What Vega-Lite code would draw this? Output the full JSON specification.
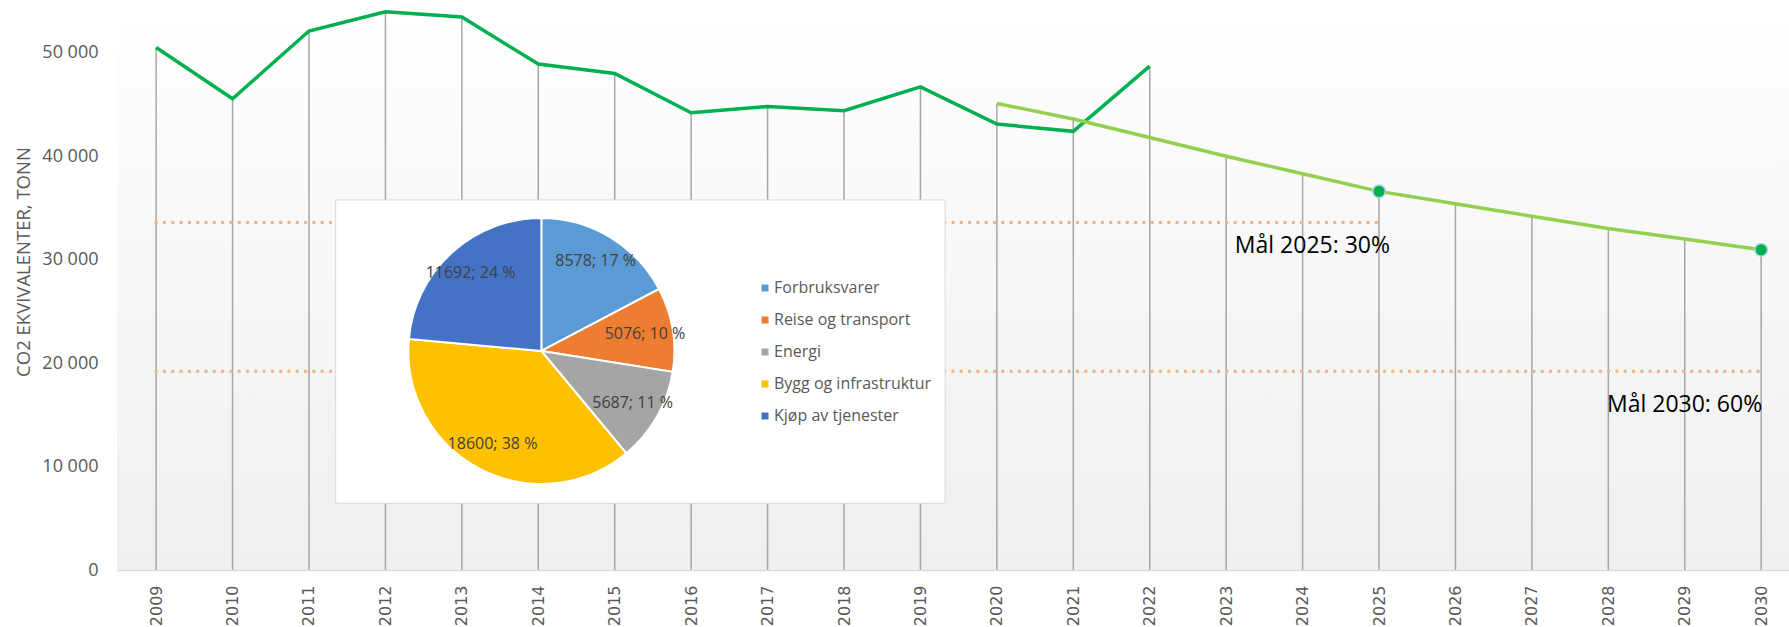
{
  "$schema": "https://vega.github.io/schema/vega-lite/v6.json",
  "width": 1672,
  "height": 569,
  "autosize": "none",
  "padding": {"left": 117, "top": 1, "right": 0, "bottom": 57},
  "background": "white",
  "config": {"view": {"stroke": null}, "font": "Open Sans"},
  "datasets": {
    "emis": [
      {"series": "actual", "year": 2009, "value": 50500},
      {"series": "actual", "year": 2010, "value": 45550},
      {"series": "actual", "year": 2011, "value": 52100},
      {"series": "actual", "year": 2012, "value": 53950},
      {"series": "actual", "year": 2013, "value": 53450},
      {"series": "actual", "year": 2014, "value": 48900},
      {"series": "actual", "year": 2015, "value": 48000},
      {"series": "actual", "year": 2016, "value": 44200},
      {"series": "actual", "year": 2017, "value": 44800},
      {"series": "actual", "year": 2018, "value": 44400},
      {"series": "actual", "year": 2019, "value": 46700},
      {"series": "actual", "year": 2020, "value": 43100},
      {"series": "actual", "year": 2021, "value": 42400},
      {"series": "actual", "year": 2022, "value": 48700},
      {"series": "target", "year": 2020, "value": 45100},
      {"series": "target", "year": 2021, "value": 43600},
      {"series": "target", "year": 2022, "value": 41800},
      {"series": "target", "year": 2023, "value": 40000},
      {"series": "target", "year": 2024, "value": 38300},
      {"series": "target", "year": 2025, "value": 36600},
      {"series": "target", "year": 2026, "value": 35400},
      {"series": "target", "year": 2027, "value": 34200},
      {"series": "target", "year": 2028, "value": 33000},
      {"series": "target", "year": 2029, "value": 32000},
      {"series": "target", "year": 2030, "value": 30950}
    ],
    "goals": [
      {"goal": "2025", "year": 2009, "value": 33600},
      {"goal": "2025", "year": 2025, "value": 33600},
      {"goal": "2030", "year": 2009, "value": 19200},
      {"goal": "2030", "year": 2030, "value": 19200}
    ],
    "pie": [
      {"cat": "Forbruksvarer", "value": 8578, "rank": 1, "label": "8578; 17 %"},
      {"cat": "Reise og transport", "value": 5076, "rank": 2, "label": "5076; 10 %"},
      {"cat": "Energi", "value": 5687, "rank": 3, "label": "5687; 11 %"},
      {"cat": "Bygg og infrastruktur", "value": 18600, "rank": 4, "label": "18600; 38 %"},
      {"cat": "Kjøp av tjenester", "value": 11692, "rank": 5, "label": "11692; 24 %"}
    ],
    "notes": [
      {"goal": "2025", "year": 2025, "value": 33600, "text": "Mål 2025: 30%"},
      {"goal": "2030", "year": 2030, "value": 19200, "text": "Mål 2030: 60%"}
    ]
  },
  "layer": [
    {
      "data": {"values": [{}]},
      "mark": {"type": "rect", "color": {"gradient": "linear", "x1": 0, "y1": 0, "x2": 0, "y2": 1, "stops": [{"offset": 0, "color": "#fefefe"}, {"offset": 1, "color": "#efefef"}]}},
      "encoding": {
        "x": {"datum": 2008.488, "type": "quantitative", "title": null,
          "scale": {"domain": [2008.488, 2030.364], "nice": false, "zero": false}},
        "x2": {"datum": 2030.364},
        "y": {"datum": 0, "type": "quantitative", "title": "CO2 EKVIVALENTER, TONN",
          "scale": {"domain": [0, 55000], "nice": false}},
        "y2": {"datum": 52700}
      }
    },
    {
      "data": {"name": "emis"},
      "mark": {"type": "rule", "color": "#a6a6a6", "strokeWidth": 1.5},
      "encoding": {
        "x": {"field": "year", "type": "quantitative", "title": null,
          "axis": {"values": [2009,2010,2011,2012,2013,2014,2015,2016,2017,2018,2019,2020,2021,2022,2023,2024,2025,2026,2027,2028,2029,2030],
            "format": "d", "labelAngle": -90, "labelAlign": "right", "labelBaseline": "middle", "grid": false, "ticks": false, "domainColor": "#d9d9d9", "domainWidth": 1.5,
            "labelFont": "DejaVu Sans", "labelFontSize": 16, "labelColor": "#595959", "labelPadding": 15}},
        "y": {"aggregate": "max", "field": "value", "type": "quantitative", "title": "CO2 EKVIVALENTER, TONN",
          "axis": {"values": [0, 10000, 20000, 30000, 40000, 50000],
            "labelExpr": "replace(format(datum.value, ','), ',', ' ')", "grid": false, "domain": false, "ticks": false,
            "labelFontSize": 18, "labelColor": "#595959", "labelPadding": 19,
            "titleFontSize": 18.5, "titleColor": "#595959", "titleFontWeight": "normal",
            "titleX": -94, "titleY": 260.5, "titleAlign": "center", "titleBaseline": "middle"}},
        "y2": {"datum": 0}
      }
    },
    {
      "data": {"name": "goals"},
      "mark": {"type": "line", "color": "#f4b183", "strokeWidth": 3.5, "strokeDash": [0.1, 8.2], "strokeCap": "round"},
      "encoding": {
        "x": {"field": "year", "type": "quantitative", "title": null},
        "y": {"field": "value", "type": "quantitative", "title": "CO2 EKVIVALENTER, TONN"},
        "detail": {"field": "goal"}
      }
    },
    {
      "data": {"values": [{}]},
      "mark": {"type": "rect", "fill": "white", "stroke": "#d9d9d9", "strokeWidth": 1},
      "encoding": {
        "x": {"datum": 2011.349, "type": "quantitative", "title": null},
        "x2": {"datum": 2019.323},
        "y": {"datum": 35770, "type": "quantitative", "title": "CO2 EKVIVALENTER, TONN"},
        "y2": {"datum": 6450}
      }
    },
    {
      "data": {"name": "pie"},
      "mark": {"type": "arc", "radius": 133, "stroke": "white", "strokeWidth": 2},
      "encoding": {
        "theta": {"field": "value", "type": "quantitative", "stack": true},
        "order": {"field": "rank", "type": "quantitative"},
        "color": {"field": "cat", "type": "nominal",
          "scale": {"domain": ["Forbruksvarer", "Reise og transport", "Energi", "Bygg og infrastruktur", "Kjøp av tjenester"],
            "range": ["#5b9bd5", "#ed7d31", "#a5a5a5", "#ffc000", "#4472c4"]},
          "legend": {"title": null, "orient": "none", "legendX": 640, "legendY": 279, "symbolType": "square", "symbolSize": 49,
            "symbolStrokeWidth": 0, "labelFontSize": 16, "labelColor": "#595959", "rowPadding": 16, "labelOffset": 1}},
        "x": {"datum": 2014.04, "type": "quantitative", "title": null},
        "y": {"datum": 21170, "type": "quantitative", "title": "CO2 EKVIVALENTER, TONN"}
      }
    },
    {
      "data": {"name": "pie"},
      "mark": {"type": "text", "radius": 105, "fontSize": 16, "fill": "#404040"},
      "encoding": {
        "theta": {"field": "value", "type": "quantitative", "stack": true},
        "order": {"field": "rank", "type": "quantitative"},
        "text": {"field": "label"},
        "x": {"datum": 2014.04, "type": "quantitative", "title": null},
        "y": {"datum": 21170, "type": "quantitative", "title": "CO2 EKVIVALENTER, TONN"}
      }
    },
    {
      "data": {"name": "emis"},
      "transform": [{"filter": "datum.series === 'actual'"}],
      "mark": {"type": "line", "color": "#00b050", "strokeWidth": 3.5},
      "encoding": {
        "x": {"field": "year", "type": "quantitative", "title": null},
        "y": {"field": "value", "type": "quantitative", "title": "CO2 EKVIVALENTER, TONN"}
      }
    },
    {
      "data": {"name": "emis"},
      "transform": [{"filter": "datum.series === 'target'"}],
      "mark": {"type": "line", "color": "#92d050", "strokeWidth": 3.5},
      "encoding": {
        "x": {"field": "year", "type": "quantitative", "title": null},
        "y": {"field": "value", "type": "quantitative", "title": "CO2 EKVIVALENTER, TONN"}
      }
    },
    {
      "data": {"name": "emis"},
      "transform": [{"filter": "datum.series === 'target' && (datum.year === 2025 || datum.year === 2030)"}],
      "mark": {"type": "point", "filled": true, "fill": "#00b050", "stroke": "#aad8e0", "strokeWidth": 1.5, "size": 160, "opacity": 1},
      "encoding": {
        "x": {"field": "year", "type": "quantitative", "title": null},
        "y": {"field": "value", "type": "quantitative", "title": "CO2 EKVIVALENTER, TONN"}
      }
    },
    {
      "data": {"name": "notes"},
      "transform": [{"filter": "datum.goal === '2025'"}],
      "mark": {"type": "text", "align": "right", "baseline": "middle", "dx": 11, "dy": 24, "fontSize": 23, "fill": "#000000"},
      "encoding": {
        "x": {"field": "year", "type": "quantitative", "title": null},
        "y": {"field": "value", "type": "quantitative", "title": "CO2 EKVIVALENTER, TONN"},
        "text": {"field": "text"}
      }
    },
    {
      "data": {"name": "notes"},
      "transform": [{"filter": "datum.goal === '2030'"}],
      "mark": {"type": "text", "align": "right", "baseline": "middle", "dx": 1, "dy": 34, "fontSize": 23, "fill": "#000000"},
      "encoding": {
        "x": {"field": "year", "type": "quantitative", "title": null},
        "y": {"field": "value", "type": "quantitative", "title": "CO2 EKVIVALENTER, TONN"},
        "text": {"field": "text"}
      }
    }
  ]
}
